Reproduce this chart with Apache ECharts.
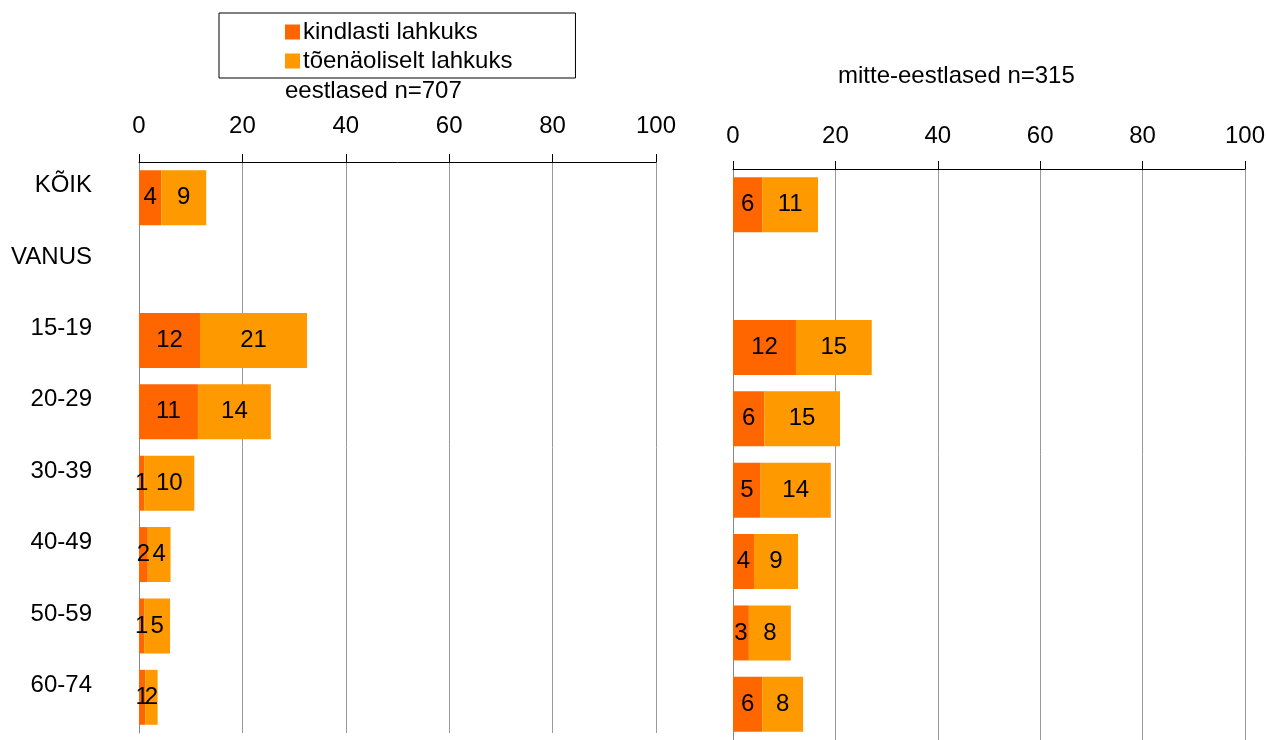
<!DOCTYPE html>
<html>
<head>
<meta charset="utf-8">
<script src="https://cdn.jsdelivr.net/npm/echarts@6/dist/echarts.min.js"></script>
<style>
  html, body { margin: 0; padding: 0; background: #fff; }
  #chart { width: 1268px; height: 740px; }
</style>
</head>
<body>
<div id="chart"></div>
<script>
const categories = ['KÕIK', 'VANUS', '15-19', '20-29', '30-39', '40-49', '50-59', '60-74'];
const seriesNames = ['kindlasti lahkuks', 'tõenäoliselt lahkuks'];
const xTicks = [0, 20, 40, 60, 80, 100];

// eestlased n=707
const estSure = [4.3, null, 11.8, 11.4, 1.0, 1.7, 1.0, 1.2];
const estLikely = [8.7, null, 20.7, 14.1, 9.7, 4.4, 5.0, 2.4];

// mitte-eestlased n=315
const nonEstSure = [5.7, null, 12.3, 6.1, 5.4, 4.1, 3.1, 5.7];
const nonEstLikely = [10.9, null, 14.8, 14.8, 13.7, 8.6, 8.2, 8.0];

const FONT = "'Liberation Sans', Arial, sans-serif";
const FS = 24;
const colors = ['#FF6600', '#FF9900'];

const chart = echarts.init(document.getElementById('chart'));

const xAxisBase = (gridIndex, margin) => ({
  type: 'value',
  gridIndex,
  position: 'top',
  min: xTicks[0],
  max: xTicks[xTicks.length - 1],
  interval: 20,
  axisLine: { show: true, lineStyle: { color: '#000', width: 1 } },
  axisTick: { show: true, inside: false, length: 8, lineStyle: { color: '#000' } },
  axisLabel: { color: '#000', fontSize: FS, fontFamily: FONT, margin },
  splitLine: { show: true, lineStyle: { color: '#999', width: 1 } },
});

const yAxisBase = (gridIndex, showLabels) => ({
  type: 'category',
  gridIndex,
  data: categories,
  inverse: true,
  axisLine: { show: true, lineStyle: { color: '#888' } },
  axisTick: { show: false },
  axisLabel: {
    show: showLabels,
    color: '#000',
    fontSize: FS,
    fontFamily: FONT,
    margin: 47,
    verticalAlign: 'bottom',
    lineHeight: 24,
  },
  splitLine: { show: false },
});

const barLabel = {
  show: true,
  position: 'inside',
  color: '#000',
  fontSize: FS,
  fontFamily: FONT,
  formatter: (p) => (p.value == null ? '' : Math.round(p.value)),
};

const makeSeries = (name, data, idx, stack) => ({
  name,
  type: 'bar',
  stack,
  xAxisIndex: idx,
  yAxisIndex: idx,
  data,
  barCategoryGap: '23%',
  itemStyle: { color: colors[seriesNames.indexOf(name)] },
  label: barLabel,
  emphasis: { disabled: true },
});

chart.setOption({
  animation: false,
  backgroundColor: '#fff',
  textStyle: { fontFamily: FONT },
  title: [
    {
      text: 'eestlased n=707',
      left: 285,
      top: 79,
      padding: 0,
      textStyle: { fontSize: FS, fontWeight: 'normal', color: '#000', fontFamily: FONT },
    },
    {
      text: 'mitte-eestlased n=315',
      left: 838,
      top: 64,
      padding: 0,
      textStyle: { fontSize: FS, fontWeight: 'normal', color: '#000', fontFamily: FONT },
    },
  ],
  legend: {
    data: seriesNames,
    orient: 'vertical',
    left: 219,
    top: 13,
    padding: [7, 63, 5, 66],
    borderColor: '#000',
    borderWidth: 1,
    itemGap: 5,
    itemWidth: 15,
    itemHeight: 15,
    icon: 'rect',
    textStyle: { fontSize: FS, color: '#000', fontFamily: FONT, padding: [0, 0, 0, -2] },
  },
  grid: [
    { left: 139, right: 612, top: 162, bottom: 7 },
    { left: 733, right: 23, top: 169, bottom: -13 },
  ],
  xAxis: [xAxisBase(0, 24), xAxisBase(1, 21)],
  yAxis: [yAxisBase(0, true), yAxisBase(1, false)],
  series: [
    makeSeries(seriesNames[0], estSure, 0, 'est'),
    makeSeries(seriesNames[1], estLikely, 0, 'est'),
    makeSeries(seriesNames[0], nonEstSure, 1, 'nonest'),
    makeSeries(seriesNames[1], nonEstLikely, 1, 'nonest'),
  ],
});
</script>
</body>
</html>
